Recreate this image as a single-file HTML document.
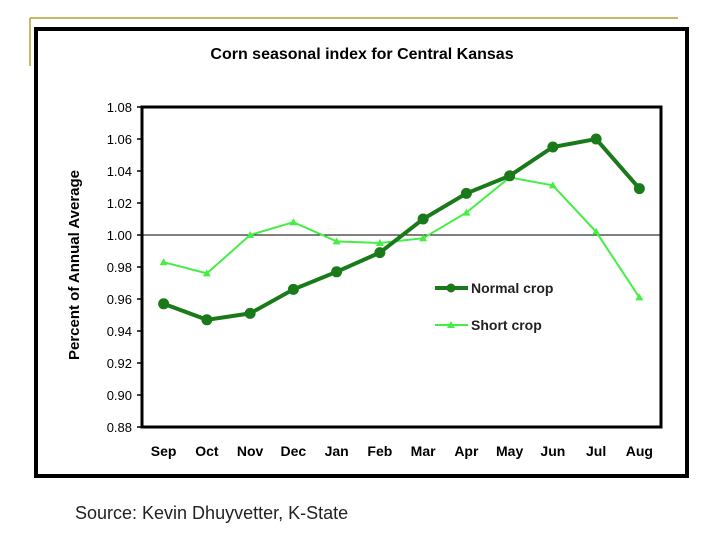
<!DOCTYPE html>
<html><head><meta charset="utf-8"><style>
html,body{margin:0;padding:0;background:#fff;width:720px;height:540px;overflow:hidden;font-family:"Liberation Sans",Arial,sans-serif}
</style></head><body>
<svg width="720" height="540" viewBox="0 0 720 540" xmlns="http://www.w3.org/2000/svg">
<line x1="30" y1="18" x2="678" y2="18" stroke="#b8a030" stroke-width="1.5"/>
<line x1="30" y1="18" x2="30" y2="66" stroke="#b8a030" stroke-width="1.5"/>
<rect x="36" y="29" width="651" height="447" fill="#fff" stroke="#000" stroke-width="4"/>
<text x="362" y="59" text-anchor="middle" font-size="16" font-weight="bold" fill="#000">Corn seasonal index for Central Kansas</text>
<text transform="translate(79,265) rotate(-90)" text-anchor="middle" font-size="15" font-weight="bold" fill="#000">Percent of Annual Average</text>
<g id="plot"></g>
<text x="75" y="519" font-size="18" fill="#222">Source: Kevin Dhuyvetter, K-State</text>
</svg>
<script>
const categories=["Sep","Oct","Nov","Dec","Jan","Feb","Mar","Apr","May","Jun","Jul","Aug"];
const normalCrop=[0.957,0.947,0.951,0.966,0.977,0.989,1.010,1.026,1.037,1.055,1.060,1.029];
const shortCrop=[0.983,0.976,1.000,1.008,0.996,0.995,0.998,1.014,1.036,1.031,1.002,0.961];
const yTicks=[0.88,0.90,0.92,0.94,0.96,0.98,1.00,1.02,1.04,1.06,1.08];
const NS="http://www.w3.org/2000/svg";
const g=document.getElementById('plot');
const L=142,R=661,T=107,B=427,yMin=0.88,yMax=1.08;
const bw=(R-L)/categories.length;
function xs(i){return L+bw*(i+0.5);}
function ys(v){return B-(v-yMin)/(yMax-yMin)*(B-T);}
function mk(tag,attrs){const e=document.createElementNS(NS,tag);for(const k in attrs)e.setAttribute(k,attrs[k]);g.appendChild(e);return e;}
let e=mk('rect',{x:L,y:T,width:R-L,height:B-T,fill:'#fff',stroke:'#000','stroke-width':3});


e=mk('line',{x1:L,y1:ys(1),x2:R,y2:ys(1),stroke:'#000','stroke-width':1});


yTicks.forEach(v=>{
 const t=mk('line',{x1:L-5,y1:ys(v),x2:L,y2:ys(v),stroke:'#000','stroke-width':1.5});
 
 
 const tx=mk('text',{x:L-10,y:ys(v)+5,'text-anchor':'end','font-size':13,fill:'#000'});
 tx.textContent=v.toFixed(2);
 
 
});
categories.forEach((c,i)=>{
 const tx=mk('text',{x:xs(i),y:456,'text-anchor':'middle','font-size':14,'font-weight':'bold',fill:'#000'});
 tx.textContent=c;
 
 
});
function pts(a){return a.map((v,i)=>xs(i)+','+ys(v)).join(' ');}
e=mk('polyline',{points:pts(shortCrop),fill:'none',stroke:'#44ee44','stroke-width':2});


shortCrop.forEach((v,i)=>{
 const x=xs(i),y=ys(v);
 const m=mk('polygon',{points:`${x},${y-4} ${x-4},${y+3} ${x+4},${y+3}`,fill:'#44ee44'});
 
 
});
e=mk('polyline',{points:pts(normalCrop),fill:'none',stroke:'#1a7a1a','stroke-width':4});


normalCrop.forEach((v,i)=>{
 const m=mk('circle',{cx:xs(i),cy:ys(v),r:5.5,fill:'#1a7a1a'});
 
 
});
// legend
e=mk('line',{x1:435,y1:288,x2:468,y2:288,stroke:'#1a7a1a','stroke-width':4});


e=mk('circle',{cx:451,cy:288,r:4.5,fill:'#1a7a1a'});


e=mk('text',{x:471,y:293,'font-size':14,'font-weight':'bold',fill:'#222'});
e.textContent='Normal crop';


e=mk('line',{x1:435,y1:325,x2:468,y2:325,stroke:'#44ee44','stroke-width':2});


e=mk('polygon',{points:'451,321 447,328 455,328',fill:'#44ee44'});


e=mk('text',{x:471,y:330,'font-size':14,'font-weight':'bold',fill:'#222'});
e.textContent='Short crop';


</script>
</body></html>
